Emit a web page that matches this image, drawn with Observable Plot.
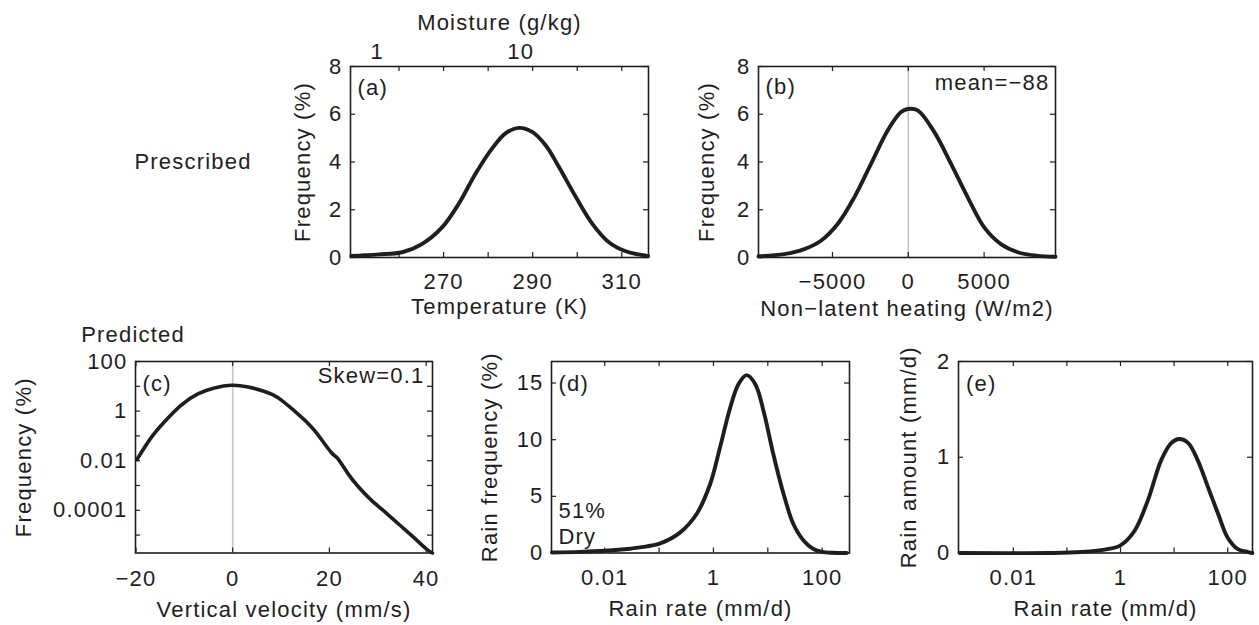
<!DOCTYPE html>
<html><head><meta charset="utf-8">
<script src="https://cdn.jsdelivr.net/npm/d3@7"></script>
<script src="https://cdn.jsdelivr.net/npm/@observablehq/plot@0.6"></script>
<style>
body{margin:0;background:#fff;}
#wrap{position:relative;width:1259px;height:625px;overflow:hidden;font-family:"Liberation Sans",Arial,sans-serif;font-size:22px;letter-spacing:1.2px;color:#222;background:#fff}
.lbl{position:absolute;transform:translate(-50%,-50%);white-space:nowrap}
</style></head><body><div id="wrap"></div>
<script>
// ---------- data ----------
// (a) temperature distribution
const tempK    = [249.3, 251.1, 255.5, 260.7, 265.2, 269.7, 273.4, 277.2, 280.9, 283.9, 286.9, 289.9, 292.9, 295.9, 299.7, 303.4, 307.1, 310.9, 315.4, 315.9];
const tempFreq = [0.06, 0.08, 0.13, 0.22, 0.57, 1.27, 2.25, 3.52, 4.57, 5.2, 5.43, 5.26, 4.7, 3.79, 2.53, 1.41, 0.64, 0.26, 0.08, 0.07];
const tempTicks = [260, 270, 280, 290, 300, 310];
const tempLabels = [270, 290, 310];
const moistureLabels = ["1", "10"];
const moistureTemps = [255.1, 287.3];   // temperature where saturation moisture = label
const freqTicks8 = [0, 2, 4, 6, 8];

// (b) non-latent heating distribution
const heatX    = [-9880, -8180, -6860, -5760, -4660, -3560, -2460, -1360, -480, -40, 620, 1720, 2820, 3920, 5010, 6110, 7220, 8530, 9710];
const heatFreq = [0.05, 0.14, 0.35, 0.70, 1.4, 2.52, 3.92, 5.32, 6.09, 6.22, 6.16, 5.25, 3.92, 2.52, 1.26, 0.56, 0.22, 0.07, 0.03];
const heatTicks = [-5000, 0, 5000];
const heatMean = "mean=\u221288";

// (c) vertical velocity distribution (log frequency)
const wVel  = [-19.8, -16.9, -14.1, -10.7, -7.2, -3.8, -0.3, 3.2, 6.6, 8.3, 10.0, 13.4, 16.9, 20.3, 21.7, 23.8, 25.9, 28.6, 32.1, 35.5, 37.6, 40.0, 41.3];
const wFreq = [0.0112, 0.0832, 0.372, 1.70, 4.90, 8.51, 11.0, 9.33, 6.17, 4.52, 2.82, 0.794, 0.166, 0.0224, 0.0123, 0.00309, 0.000933, 0.000263, 0.0000676, 0.0000174, 0.00000759, 0.00000282, 0.0000019];
const wTicks = [-20, 0, 20, 40];
const wFreqTicks = [100, 10, 1, 0.1, 0.01, 0.001, 0.0001, 0.00001];
const wFreqLabels = [100, 1, 0.01, 0.0001];
const wFreqText = {100: "100", 1: "1", 0.01: "0.01", 0.0001: "0.0001"};
const wSkew = "Skew=0.1";

// (d) rain frequency
const rainRateD = [0.00107, 0.00355, 0.0102, 0.0295, 0.0447, 0.105, 0.245, 0.49, 0.871, 1.32, 2.04, 2.88, 4.07, 5.89, 8.32, 12.6, 19.5, 29.5, 45.7, 69.2, 100, 150, 282];
const rainFreq  = [0.04, 0.1, 0.2, 0.38, 0.49, 0.85, 1.82, 3.44, 6.09, 9.32, 12.85, 14.9, 15.7, 14.9, 12.56, 8.74, 5.2, 2.56, 1.09, 0.35, 0.1, 0.02, 0.0];
const rainFreqTicks = [0, 5, 10, 15];
const dryText = ["51%", "Dry"];

// (e) rain amount
const rainRateE = [0.001, 0.0447, 0.186, 0.575, 1, 1.82, 3.24, 5.75, 8.91, 12.3, 18.2, 27.5, 42.7, 66.1, 100, 155, 240, 288];
const rainAmt   = [0, 0.0, 0.01, 0.04, 0.08, 0.23, 0.55, 0.97, 1.15, 1.19, 1.15, 0.97, 0.69, 0.41, 0.16, 0.04, 0.01, 0.0];
const rainAmtTicks = [0, 1, 2];

const rateTicks = [0.01, 0.1, 1, 10, 100];
const rateLabels = [0.01, 1, 100];
const rateText = {0.01: "0.01", 1: "1", 100: "100"};

// ---------- drawing ----------
const wrap = document.getElementById("wrap");
const INK = "#1e1e1e";
const mL = 130, mR = 20, mT = 80, mB = 75;
const font = {fontFamily: "Liberation Sans, Arial, sans-serif", fontSize: 22};

function frameTicks(xt, yt, fw, fh) {
  const t = 5;
  return [
    Plot.tickX(xt, {x: d => d, insetTop: fh - t, stroke: INK, strokeWidth: 1.2}),
    Plot.tickX(xt, {x: d => d, insetBottom: fh - t, stroke: INK, strokeWidth: 1.2}),
    Plot.tickY(yt, {y: d => d, insetRight: fw - t, stroke: INK, strokeWidth: 1.2}),
    Plot.tickY(yt, {y: d => d, insetLeft: fw - t, stroke: INK, strokeWidth: 1.2})
  ];
}

function txt(s, o) {
  return Plot.text([s], {text: d => d, lineAnchor: "middle", fill: INK, ...font, ...o});
}

function panel({fx, fy, fw, fh, x, y, marks}) {
  const svg = Plot.plot({
    width: fw + mL + mR, height: fh + mT + mB,
    marginLeft: mL, marginRight: mR, marginTop: mT, marginBottom: mB,
    x, y,
    style: {background: "transparent", overflow: "visible", color: INK,
            fontFamily: "Liberation Sans, Arial, sans-serif", fontSize: "22px", letterSpacing: "1.2px"},
    marks: [...marks, Plot.frame({stroke: INK, strokeWidth: 1.6})]
  });
  svg.style.position = "absolute";
  svg.style.left = (fx - mL) + "px";
  svg.style.top = (fy - mT) + "px";
  svg.style.maxWidth = "none";
  wrap.appendChild(svg);
}

const lineStyle = {stroke: INK, strokeWidth: 3.9, curve: "catmull-rom", strokeLinejoin: "round", strokeLinecap: "round"};
const gray = {stroke: "#c4c4c4", strokeWidth: 1.6};
const ylab = (s, dx) => txt(s, {frameAnchor: "left", dx, rotate: -90, textAnchor: "middle"});
const xlab = (s, dy) => txt(s, {frameAnchor: "bottom", dy, textAnchor: "middle"});
const minus = d => d < 0 ? "\u2212" + Math.abs(d) : String(d);

// (a)
{
  const fw = 298, fh = 191;
  panel({fx: 350, fy: 66, fw, fh,
    x: {type: "linear", domain: [249.1, 316]},
    y: {domain: [0, 8]},
    marks: [
      Plot.line(tempK.map((t, i) => ({t, f: tempFreq[i]})), {x: "t", y: "f", ...lineStyle}),
      ...frameTicks(tempTicks, freqTicks8, fw, fh),
      Plot.axisX(tempLabels, {anchor: "bottom", tickSize: 0, tickPadding: 16, label: null, tickFormat: String, ...font}),
      Plot.axisX(moistureTemps, {anchor: "top", tickSize: 0, tickPadding: 8, label: null,
        tickFormat: d => moistureLabels[moistureTemps.indexOf(d)], ...font}),
      Plot.axisY(freqTicks8, {anchor: "left", tickSize: 0, tickPadding: 8, label: null, tickFormat: String, ...font}),
      txt("Moisture (g/kg)", {frameAnchor: "top", dy: -44, textAnchor: "middle"}),
      txt("(a)", {frameAnchor: "top-left", dx: 7, dy: 21, textAnchor: "start"}),
      ylab("Frequency (%)", -48),
      xlab("Temperature (K)", 49)
    ]
  });
}

// (b)
{
  const fw = 297, fh = 191;
  panel({fx: 757.5, fy: 66, fw, fh,
    x: {domain: [-9880, 9710]},
    y: {domain: [0, 8]},
    marks: [
      Plot.ruleX([0], {...gray}),
      Plot.line(heatX.map((h, i) => ({h, f: heatFreq[i]})), {x: "h", y: "f", ...lineStyle}),
      ...frameTicks(heatTicks, freqTicks8, fw, fh),
      Plot.axisX(heatTicks, {anchor: "bottom", tickSize: 0, tickPadding: 16, label: null, tickFormat: minus, ...font}),
      Plot.axisY(freqTicks8, {anchor: "left", tickSize: 0, tickPadding: 8, label: null, tickFormat: String, ...font}),
      txt("(b)", {frameAnchor: "top-left", dx: 7, dy: 20, textAnchor: "start"}),
      txt(heatMean, {frameAnchor: "top-right", dx: -6, dy: 16, textAnchor: "end"}),
      ylab("Frequency (%)", -52),
      xlab("Non\u2212latent heating (W/m2)", 51)
    ]
  });
}

// (c)
{
  const fw = 297, fh = 191.5;
  panel({fx: 134.5, fy: 361, fw, fh,
    x: {domain: [-20.1, 41.32]},
    y: {type: "log", domain: [1.9e-6, 100]},
    marks: [
      Plot.ruleX([0], {...gray}),
      Plot.line(wVel.map((w, i) => ({w, f: wFreq[i]})), {x: "w", y: "f", ...lineStyle, curve: "natural", strokeWidth: 3.6}),
      ...frameTicks(wTicks, wFreqTicks, fw, fh),
      Plot.axisX(wTicks, {anchor: "bottom", tickSize: 0, tickPadding: 17, label: null, tickFormat: minus, ...font}),
      Plot.axisY(wFreqLabels, {anchor: "left", tickSize: 0, tickPadding: 8, label: null,
        tickFormat: d => wFreqText[d], ...font}),
      txt("(c)", {frameAnchor: "top-left", dx: 7, dy: 22, textAnchor: "start"}),
      txt(wSkew, {frameAnchor: "top-right", dx: -8, dy: 14, textAnchor: "end"}),
      ylab("Frequency (%)", -112),
      xlab("Vertical velocity (mm/s)", 57)
    ]
  });
}

// (d)
{
  const fw = 298, fh = 191.5;
  panel({fx: 551, fy: 361, fw, fh,
    x: {type: "log", domain: [0.00105, 318]},
    y: {domain: [0, 16.9]},
    marks: [
      Plot.line(rainRateD.map((r, i) => ({r, f: rainFreq[i]})), {x: "r", y: "f", ...lineStyle}),
      ...frameTicks(rateTicks, rainFreqTicks, fw, fh),
      Plot.axisX(rateLabels, {anchor: "bottom", tickSize: 0, tickPadding: 16, label: null,
        tickFormat: d => rateText[d], ...font}),
      Plot.axisY(rainFreqTicks, {anchor: "left", tickSize: 0, tickPadding: 8, label: null, tickFormat: String, ...font}),
      txt("(d)", {frameAnchor: "top-left", dx: 7, dy: 22, textAnchor: "start"}),
      txt(dryText[0], {frameAnchor: "bottom-left", dx: 7, dy: -42, textAnchor: "start"}),
      txt(dryText[1], {frameAnchor: "bottom-left", dx: 7, dy: -16, textAnchor: "start"}),
      ylab("Rain frequency (%)", -62),
      xlab("Rain rate (mm/d)", 56)
    ]
  });
}

// (e)
{
  const fw = 294, fh = 191.5;
  panel({fx: 957.5, fy: 361, fw, fh,
    x: {type: "log", domain: [0.00095, 290]},
    y: {domain: [0, 2]},
    marks: [
      Plot.line(rainRateE.map((r, i) => ({r, a: rainAmt[i]})), {x: "r", y: "a", ...lineStyle}),
      ...frameTicks(rateTicks, rainAmtTicks, fw, fh),
      Plot.axisX(rateLabels, {anchor: "bottom", tickSize: 0, tickPadding: 16, label: null,
        tickFormat: d => rateText[d], ...font}),
      Plot.axisY(rainAmtTicks, {anchor: "left", tickSize: 0, tickPadding: 8, label: null, tickFormat: String, ...font}),
      txt("(e)", {frameAnchor: "top-left", dx: 7.5, dy: 22, textAnchor: "start"}),
      ylab("Rain amount (mm/d)", -50),
      xlab("Rain rate (mm/d)", 56)
    ]
  });
}

// row titles
function rowLabel(s, cx, cy) {
  const d = document.createElement("div");
  d.className = "lbl";
  d.textContent = s;
  d.style.left = cx + "px";
  d.style.top = cy + "px";
  wrap.appendChild(d);
}
rowLabel("Prescribed", 193, 162);
rowLabel("Predicted", 133, 335);
</script></body></html>
